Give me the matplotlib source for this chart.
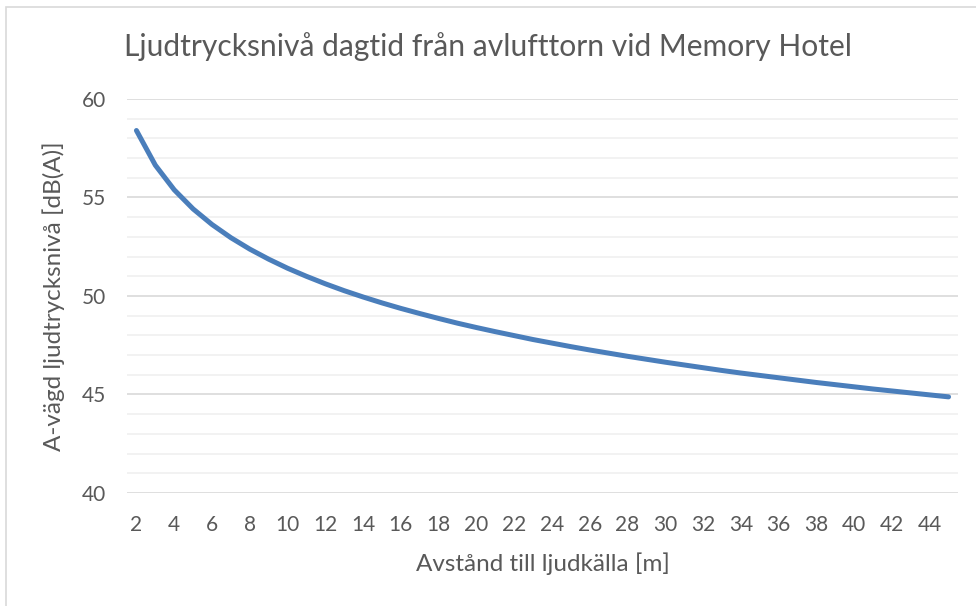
import matplotlib
matplotlib.use('Agg')
import matplotlib.pyplot as plt
from matplotlib.patches import Rectangle

# Data
distance_m = list(range(2, 46))
level_dba = [58.40, 56.64, 55.39, 54.42, 53.63, 52.96, 52.38, 51.87, 51.41, 51.00,
             50.62, 50.27, 49.95, 49.65, 49.37, 49.11, 48.86, 48.62, 48.40, 48.19,
             47.99, 47.79, 47.61, 47.43, 47.26, 47.10, 46.94, 46.79, 46.64, 46.50,
             46.36, 46.22, 46.09, 45.97, 45.85, 45.73, 45.61, 45.50, 45.39, 45.28,
             45.18, 45.08, 44.98, 44.88]
x_ticklabels = [str(d) for d in distance_m[::2]]

title = 'Ljudtrycksnivå dagtid från avlufttorn vid Memory Hotel'
xlabel = 'Avstånd till ljudkälla [m]'
ylabel = 'A-vägd ljudtrycksnivå [dB(A)]'

text_col = '#595959'
plt.rcParams['font.family'] = ['Lato', 'DejaVu Sans']

fig = plt.figure(figsize=(9.76, 6.06), dpi=100)
ax = fig.add_axes([127 / 976, 1 - 493 / 606, (958 - 127) / 976, (493 - 99) / 606])

# chart border (light grey, continues past the right/bottom edge)
fig.patches.append(Rectangle((6 / 976, -0.1), 1.2, 1 - 7 / 606 + 0.1,
                             transform=fig.transFigure, fill=False,
                             edgecolor='#d9d9d9', linewidth=1.2))

idx = list(range(len(distance_m)))
ax.plot(idx, level_dba, color='#4a7ebb', linewidth=3.6,
        solid_capstyle='round', zorder=3)

ax.set_xlim(-0.5, len(distance_m) - 0.5)
ax.set_ylim(40, 60)
ax.set_yticks([40, 45, 50, 55, 60])
ax.set_yticks(range(40, 61), minor=True)
ax.set_xticks(idx[::2])
ax.set_xticklabels(x_ticklabels)

ax.grid(True, which='major', axis='y', color='#d9d9d9', linewidth=1.2, zorder=1)
ax.grid(True, which='minor', axis='y', color='#f0f0f0', linewidth=1.2, zorder=0)
for s in ax.spines.values():
    s.set_visible(False)
ax.tick_params(which='both', length=0)
ax.tick_params(axis='both', labelsize=15, labelcolor=text_col)
ax.tick_params(axis='x', pad=16)
ax.tick_params(axis='y', pad=15)

ax.set_xlabel(xlabel, fontsize=17.5, color=text_col, labelpad=12)
ax.set_ylabel(ylabel, fontsize=17.5, color=text_col, labelpad=12)
fig.text(0.5, 1 - 47 / 606, title, ha='center', va='center',
         fontsize=21.6, color=text_col)

fig.savefig('out.png', dpi=100)
